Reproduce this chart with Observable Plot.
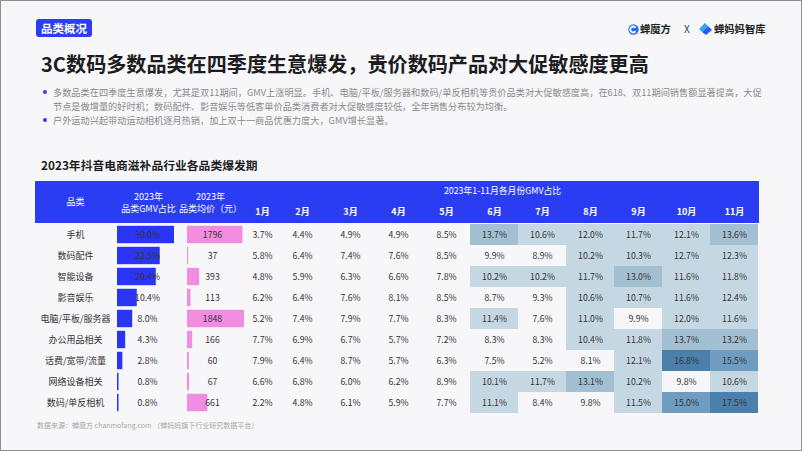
<!DOCTYPE html>
<html><head><meta charset="utf-8">
<script src="https://cdn.jsdelivr.net/npm/d3@7"></script>
<script src="https://cdn.jsdelivr.net/npm/@observablehq/plot@0.6"></script>
<style>
html,body{margin:0;padding:0;background:#f7f7f9;}
#page{position:relative;width:802px;height:451px;background:#f7f7f9;font-family:"Noto Sans CJK SC","Noto Sans",sans-serif;overflow:hidden;}
.abs{position:absolute;white-space:nowrap;}
#frame{position:absolute;left:0;top:0;width:802px;height:451px;box-sizing:border-box;border:1.5px solid #8e8e8e;pointer-events:none;}
#tag{left:36px;top:19px;width:56px;height:18px;background:#2b3ef2;border-radius:3px;color:#fff;font-weight:bold;font-size:11.5px;line-height:18px;text-align:center;}
#title{left:41px;top:52px;font-size:20.1px;line-height:24px;font-weight:bold;color:#1d1d1f;}
#bullets{left:53px;top:85px;font-size:9.2px;line-height:14px;color:#8a8a8a;}
.dot{position:absolute;width:4px;height:4px;border-radius:50%;background:#2b3ef2;}
#sub{left:41px;top:157px;font-size:11.8px;line-height:16px;font-weight:bold;color:#1d1d1f;}
#hdr{left:35px;top:181px;width:724px;height:42px;background:#2b3df2;}
#src{left:37px;top:420px;font-size:7px;line-height:10px;color:#a8a8a8;}
.logo{font-size:10.3px;line-height:14px;font-weight:bold;color:#222;}
.plot{position:absolute;top:181px;}
</style>
</head><body>
<div id="page">
  <div id="tag" class="abs">品类概况</div>
  <svg class="abs" style="left:628px;top:24px" width="11" height="11" viewBox="0 0 11 11"><circle cx="5.5" cy="5.5" r="5.2" fill="#2a6cf0"/><path d="M7.6 3.6 A3 3 0 1 0 7.6 7.4" stroke="#fff" stroke-width="1.8" fill="none"/></svg>
  <div class="abs logo" style="left:640px;top:22px">蝉魔方</div>
  <div class="abs" style="left:684px;top:22px;font-size:10px;line-height:14px;color:#444">X</div>
  <svg class="abs" style="left:698px;top:22px" width="15" height="14" viewBox="0 0 15 14"><path d="M1 7 L7 1 L10 4 L4 10 Z" fill="#2fa6f0"/><path d="M4 10 L10 4 L14 8 L8 13 Z" fill="#2b5cf0"/></svg>
  <div class="abs logo" style="left:714px;top:22px">蝉妈妈智库</div>
  <div id="title" class="abs">3C数码多数品类在四季度生意爆发，贵价数码产品对大促敏感度更高</div>
  <div class="dot" style="left:43px;top:90px"></div>
  <div class="dot" style="left:43px;top:118px"></div>
  <div id="bullets" class="abs">多数品类在四季度生意爆发，尤其是双11期间，GMV上涨明显。手机、电脑/平板/服务器和数码/单反相机等贵价品类对大促敏感度高，在618、双11期间销售额显著提高，大促<br>节点是做增量的好时机；数码配件、影音娱乐等低客单价品类消费者对大促敏感度较低，全年销售分布较为均衡。<br>户外运动兴起带动运动相机逐月热销，加上双十一商品优惠力度大，GMV增长显著。</div>
  <div id="sub" class="abs">2023年抖音电商滋补品行业各品类爆发期</div>
  <div id="hdr" class="abs"></div>
  <div id="src" class="abs">数据来源：蝉魔方 chanmofang.com （蝉妈妈旗下行业研究数据平台）</div>
  <div id="frame"></div>
</div>
<script>
const categories = ["手机","数码配件","智能设备","影音娱乐","电脑/平板/服务器","办公用品相关","话费/宽带/流量","网络设备相关","数码/单反相机"];
const gmvShare = [30.0, 22.5, 20.4, 10.4, 8.0, 4.3, 2.8, 0.8, 0.8];
const avgPrice = [1796, 37, 393, 113, 1848, 166, 60, 67, 661];
const months = [1,2,3,4,5,6,7,8,9,10,11];
const monthlyShare = [
  [3.7,4.4,4.9,4.9,8.5,13.7,10.6,12.0,11.7,12.1,13.6],
  [5.8,6.4,7.4,7.6,8.5,9.9,8.9,10.2,10.3,12.7,12.3],
  [4.8,5.9,6.3,6.6,7.8,10.2,10.2,11.7,13.0,11.6,11.8],
  [6.2,6.4,7.6,8.1,8.5,8.7,9.3,10.6,10.7,11.6,12.4],
  [5.2,7.4,7.9,7.7,8.3,11.4,7.6,11.0,9.9,12.0,11.6],
  [7.7,6.9,6.7,5.7,7.2,8.3,8.3,10.4,11.8,13.7,13.2],
  [7.9,6.4,8.7,5.7,6.3,7.5,5.2,8.1,12.1,16.8,15.5],
  [6.6,6.8,6.0,6.2,8.9,10.1,11.7,13.1,10.2,9.8,10.6],
  [2.2,4.8,6.1,5.9,7.7,11.1,8.4,9.8,11.5,15.0,17.5]
];

const rows = categories.map((c,i)=>({cat:c, gmv:gmvShare[i], price:avgPrice[i]}));
const heat = categories.flatMap((c,i)=>months.map((m,j)=>({cat:c, m, v:monthlyShare[i][j]})));

const font = "'Noto Sans CJK SC','Noto Sans',sans-serif";
const txt = "#333";
const common = {
  height:232, marginTop:42, marginBottom:0,
  y:{domain:categories, padding:0, axis:null},
  style:{background:"transparent", fontFamily:font, overflow:"visible"}
};

const plotA = Plot.plot({...common, width:148, marginLeft:82, marginRight:9,
  x:{domain:[0,30], axis:null},
  marks:[
    Plot.barX(rows,{x:"gmv", y:"cat", fill:"#2b35f5", insetTop:1.8, insetBottom:1.8}),
    Plot.text(rows,{y:"cat", text:"cat", frameAnchor:"left", textAnchor:"middle", dx:-42, fontSize:9, fill:txt}),
    Plot.text(rows,{y:"cat", text:d=>d.gmv.toFixed(1)+"%", frameAnchor:"left", textAnchor:"middle", dx:30, fontSize:8.7, fill:txt}),
    Plot.text(["品类"],{frameAnchor:"top-left", textAnchor:"middle", lineAnchor:"middle", dx:-42, dy:-21, fill:"white", fontSize:9}),
    Plot.text(["2023年\n品类GMV占比"],{frameAnchor:"top-left", textAnchor:"middle", lineAnchor:"middle", dx:31, dy:-21, fill:"white", fontSize:9, lineHeight:1.3})
  ]});
plotA.classList.add("plot"); plotA.style.left="35px";

const plotB = Plot.plot({...common, width:67, marginLeft:4, marginRight:6,
  x:{domain:[0,1848], axis:null},
  marks:[
    Plot.barX(rows,{x:"price", y:"cat", fill:"#f28ce0", insetTop:1.8, insetBottom:1.8}),
    Plot.text(rows,{y:"cat", text:d=>String(d.price), frameAnchor:"left", textAnchor:"middle", dx:25, fontSize:8.7, fill:txt}),
    Plot.text(["2023年\n品类均价（元）"],{frameAnchor:"top-left", textAnchor:"middle", lineAnchor:"middle", dx:23, dy:-21, fill:"white", fontSize:9, lineHeight:1.3})
  ]});
plotB.classList.add("plot"); plotB.style.left="183px";

const plotC = Plot.plot({...common, width:528, marginLeft:0, marginRight:0,
  x:{type:"linear", domain:[1,2,11], range:[31,71,503], axis:null},
  color:{type:"threshold", domain:[10,13,15,16], range:["#f7f7f9","#c5d7e3","#a3bfd2","#6f9cc1","#4b80ac"]},
  marks:[
    Plot.barX(heat.filter(d=>d.v>=10),{x1:d=>d.m-0.5, x2:d=>d.m+0.5, y:"cat", fill:"v"}),
    Plot.text(heat,{x:"m", y:"cat", text:d=>d.v.toFixed(1)+"%", fontSize:8.7, fill:txt}),
    Plot.text(months,{x:d=>d, frameAnchor:"top", lineAnchor:"middle", dy:-11, text:d=>d+"月", fill:"white", fontWeight:"bold", fontSize:9}),
    Plot.text(["2023年1-11月各月份GMV占比"],{frameAnchor:"top", lineAnchor:"middle", dx:7, dy:-32, fill:"white", fontSize:8.8})
  ]});
plotC.classList.add("plot"); plotC.style.left="231px";

const page = document.getElementById("page");
const frame = document.getElementById("frame");
page.insertBefore(plotA, frame);
page.insertBefore(plotB, frame);
page.insertBefore(plotC, frame);
</script>
</body></html>
